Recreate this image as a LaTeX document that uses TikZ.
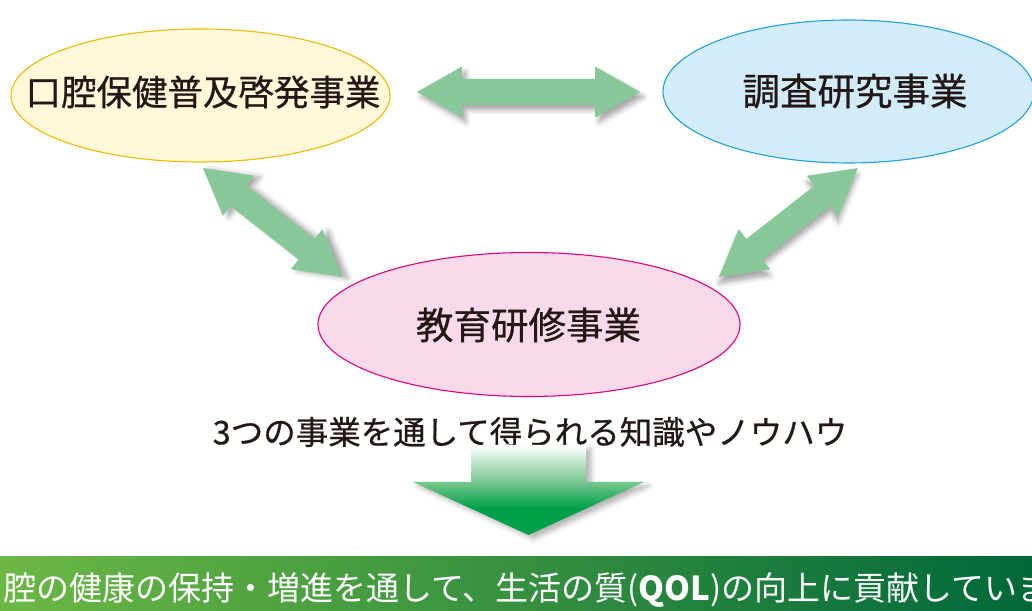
\documentclass[tikz,border=0pt]{standalone}
\usepackage{fontspec}
\setmainfont{Noto Sans CJK JP}
\newfontfamily\medjp[FakeBold=0.6]{Noto Sans CJK JP}
\usetikzlibrary{shapes.geometric,shadows.blur}
\definecolor{arrg}{HTML}{88C898}
\definecolor{txt}{HTML}{231815}
\definecolor{yfill}{HTML}{FFF9D9}
\definecolor{ydraw}{HTML}{F2B705}
\definecolor{bfill}{HTML}{D3ECF9}
\definecolor{bdraw}{HTML}{1E9FE0}
\definecolor{pfill}{HTML}{F9DAEA}
\definecolor{pdraw}{HTML}{E4007F}
\definecolor{dg}{HTML}{00A04A}
\definecolor{mg}{HTML}{7CC890}
\definecolor{barl}{HTML}{6CB844}
\definecolor{barm}{HTML}{3A9A45}
\definecolor{barr}{HTML}{00683A}
\pgfdeclareverticalshading{dnarrow}{100bp}{color(0bp)=(dg); color(25bp)=(dg); color(40bp)=(dg); color(55bp)=(mg); color(75bp)=(white); color(100bp)=(white)}
\tikzset{
  biz/.style={ellipse, line width=1.1pt, inner sep=0pt},
  biztext/.style={text=txt, inner sep=0pt, font=\medjp\fontsize{37.5}{40}\selectfont},
  lead/.style={text=txt, inner sep=0pt, font=\medjp\fontsize{32.5}{36}\selectfont},
  bartext/.style={text=white, inner sep=0pt, font=\fontsize{33}{36}\selectfont},
}
\newcommand\blockdbl[5]{%
  \pgfmathsetmacro\bdh{#5/2}%
  \pgfmathsetmacro\bdk{#5/2-45}%
  \pgfmathsetmacro\bdsx{4*cos(#4)-5*sin(#4)}%
  \pgfmathsetmacro\bdsy{-4*sin(#4)-5*cos(#4)}%
  \coordinate (#1) at (#2,#3);
  \begin{scope}[shift={(#1)},rotate=#4]
    \fill[arrg, blur shadow={shadow xshift=\bdsx pt, shadow yshift=\bdsy pt, shadow blur radius=5pt, shadow opacity=35}]
      (-\bdh,0) -- (-\bdk,25.5) -- (-\bdk,13) -- (\bdk,13) -- (\bdk,25.5) -- (\bdh,0)
      -- (\bdk,-25.5) -- (\bdk,-13) -- (-\bdk,-13) -- (-\bdk,-25.5) -- cycle;
  \end{scope}}
\begin{document}
\begin{tikzpicture}[x=1pt,y=1pt]
\useasboundingbox (0,0) rectangle (1032,610);
% block arrows
\blockdbl{hc}{528.5}{518}{0}{223}
\blockdbl{lc}{272.5}{387.5}{-38.1}{176.6}
\blockdbl{rc}{788.5}{387.5}{38.1}{176.6}
% ellipses
\node[biz, draw=ydraw, fill=yfill, minimum width=379pt, minimum height=133pt] (health) at (200.5,514.5) {};
\node[biztext, font=\medjp\fontsize{35.5}{38}\selectfont] (healtht) at (203,518) {口腔保健普及啓発事業};
\node[biz, draw=bdraw, fill=bfill, minimum width=371pt, minimum height=143pt] (survey) at (848.5,518.5) {};
\node[biztext] (surveyt) at (855,519) {調査研究事業};
\node[biz, draw=pdraw, fill=pfill, minimum width=422pt, minimum height=144pt] (edu) at (529,285.5) {};
\node[biztext] (edut) at (528.5,285) {教育研修事業};
% lead text
\node[lead] (lead) at (530,178) {3つの事業を通して得られる知識やノウハウ};
% down arrow
\coordinate (dtip) at (528.5,75);
\shade[shading=dnarrow, blur shadow={shadow xshift=5pt, shadow yshift=-4pt, shadow blur radius=5pt, shadow opacity=30}]
  (471,165) -- (586,165) -- (586,128) -- (644,128) -- (dtip) -- (413,128) -- (471,128) -- cycle;
% bottom bar
\shade[left color=barl, middle color=barm, right color=barr] (0,0) rectangle (1032,54);
\begin{scope}
\clip (0,0) rectangle (1032,54);
\node[bartext, anchor=base west] (goal) at (-30,10) {口腔の健康の保持・増進を通して、生活の質(\textbf{QOL})の向上に貢献しています。};
\end{scope}
\end{tikzpicture}
\end{document}
